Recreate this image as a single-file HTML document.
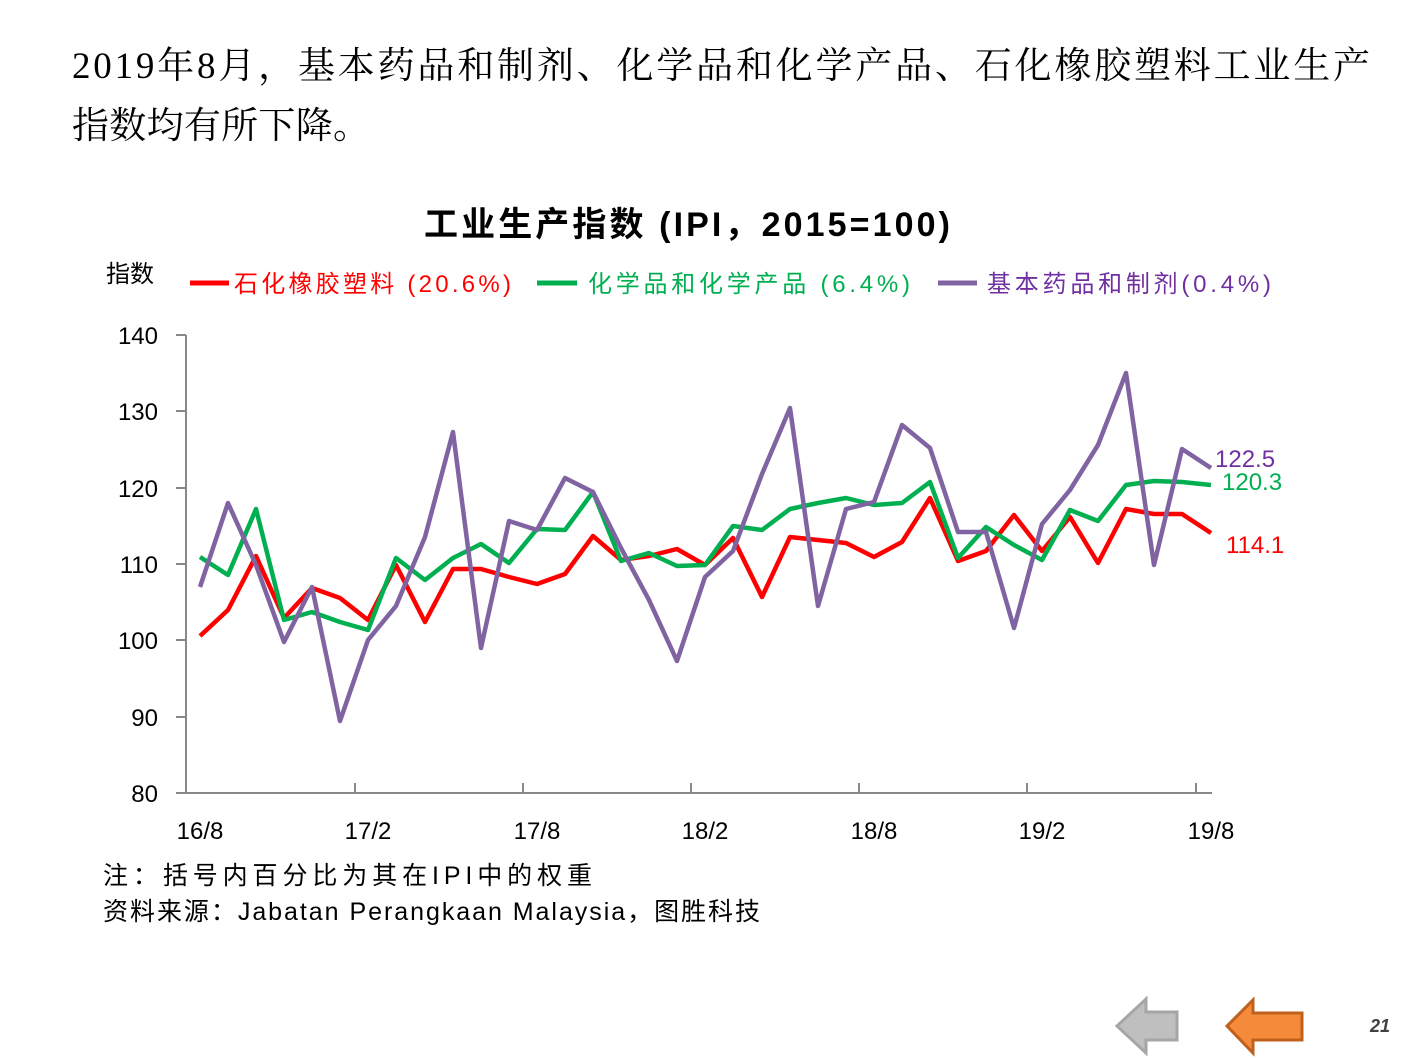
<!DOCTYPE html>
<html><head><meta charset="utf-8"><style>
html,body{margin:0;padding:0;background:#fff;}
body{width:1411px;height:1058px;overflow:hidden;position:relative;}
</style></head><body>
<svg width="1411" height="1058" viewBox="0 0 1411 1058" xmlns="http://www.w3.org/2000/svg" style="position:absolute;left:0;top:0">
<g font-family="'Liberation Serif','Noto Serif CJK SC',serif" font-size="37" fill="#000">
<text x="72" y="78" textLength="1298" lengthAdjust="spacing">2019年8月，基本药品和制剂、化学品和化学产品、石化橡胶塑料工业生产</text>
<text x="72" y="138" textLength="298" lengthAdjust="spacing">指数均有所下降。</text>
</g>
<text x="424" y="236" textLength="526" lengthAdjust="spacing" font-family="'Liberation Sans','Noto Sans CJK SC',sans-serif" font-size="34" font-weight="bold">工业生产指数 (IPI，2015=100)</text>
<g font-family="'Liberation Sans','Noto Sans CJK SC',sans-serif" font-size="24">
<text x="106" y="282">指数</text>
<line x1="190" y1="283" x2="229" y2="283" stroke="#ff0000" stroke-width="5"/>
<text x="234" y="292" fill="#ff0000" textLength="277" lengthAdjust="spacing">石化橡胶塑料 (20.6%)</text>
<line x1="537" y1="283" x2="577" y2="283" stroke="#00b050" stroke-width="5"/>
<text x="588" y="292" fill="#00b050" textLength="322" lengthAdjust="spacing">化学品和化学产品 (6.4%)</text>
<line x1="938" y1="283" x2="977" y2="283" stroke="#8064a2" stroke-width="5"/>
<text x="987" y="292" fill="#7030a0" textLength="284" lengthAdjust="spacing">基本药品和制剂(0.4%)</text>
</g>
<g stroke="#888" stroke-width="2">
<line x1="186" y1="335" x2="186" y2="793"/>
<line x1="186" y1="793" x2="1212" y2="793"/>
<line x1="176" y1="335" x2="186" y2="335"/><line x1="176" y1="411" x2="186" y2="411"/><line x1="176" y1="488" x2="186" y2="488"/><line x1="176" y1="564" x2="186" y2="564"/><line x1="176" y1="640" x2="186" y2="640"/><line x1="176" y1="717" x2="186" y2="717"/><line x1="176" y1="793" x2="186" y2="793"/>
<line x1="355" y1="783" x2="355" y2="793"/><line x1="523" y1="783" x2="523" y2="793"/><line x1="691" y1="783" x2="691" y2="793"/><line x1="859" y1="783" x2="859" y2="793"/><line x1="1027" y1="783" x2="1027" y2="793"/><line x1="1196" y1="783" x2="1196" y2="793"/>
</g>
<g font-family="'Liberation Sans',sans-serif" font-size="24" text-anchor="end">
<text x="158" y="344">140</text><text x="158" y="420">130</text><text x="158" y="497">120</text><text x="158" y="573">110</text><text x="158" y="649">100</text><text x="158" y="726">90</text><text x="158" y="802">80</text>
</g>
<g font-family="'Liberation Sans',sans-serif" font-size="24" text-anchor="middle">
<text x="200" y="839">16/8</text><text x="368" y="839">17/2</text><text x="537" y="839">17/8</text><text x="705" y="839">18/2</text><text x="874" y="839">18/8</text><text x="1042" y="839">19/2</text><text x="1211" y="839">19/8</text>
</g>
<g fill="none" stroke-width="4.5" stroke-linejoin="round">
<polyline stroke="#ff0000" points="200,636 228,610 256,556 284,618 312,588 340,598 368,620 396,565 425,622 453,569 481,569 509,577 537,584 565,574 593,536 621,560 649,556 677,549 705,565 733,538 762,597 790,537 818,540 846,543 874,557 902,542 930,498 958,561 986,551 1014,515 1042,551 1070,517 1098,563 1126,509 1154,514 1182,514 1211,533"/>
<polyline stroke="#00b050" points="200,557 228,575 256,509 284,620 312,612 340,622 368,630 396,558 425,580 453,558 481,544 509,563 537,529 565,530 593,492 621,561 649,553 677,566 705,565 733,526 762,530 790,509 818,503 846,498 874,505 902,503 930,482 958,558 986,527 1014,545 1042,560 1070,510 1098,521 1126,485 1154,481 1182,482 1211,485"/>
<polyline stroke="#8064a2" points="200,587 228,503 256,565 284,642 312,587 340,721 368,640 396,606 425,537 453,432 481,648 509,521 537,530 565,478 593,492 621,548 649,600 677,661 705,577 733,551 762,474 790,408 818,606 846,509 874,502 902,425 930,448 958,532 986,532 1014,628 1042,524 1070,490 1098,445 1126,373 1154,565 1182,449 1211,468"/>
</g>
<g font-family="'Liberation Sans',sans-serif" font-size="24">
<text x="1215" y="467" fill="#7030a0">122.5</text>
<text x="1222" y="490" fill="#00b050">120.3</text>
<text x="1226" y="553" fill="#ff0000">114.1</text>
</g>
<g font-family="'Liberation Sans','Noto Sans CJK SC',sans-serif" font-size="25">
<text x="103" y="884" textLength="489" lengthAdjust="spacing">注：括号内百分比为其在IPI中的权重</text>
<text x="103" y="920" textLength="657" lengthAdjust="spacing">资料来源：Jabatan Perangkaan Malaysia，图胜科技</text>
</g>
<path d="M1117,1026 L1146,999 L1146,1012 L1177,1012 L1177,1040 L1146,1040 L1146,1053 Z" fill="#bfbfbf" stroke="#a6a6a6" stroke-width="3"/>
<path d="M1227,1026 L1253,1000 L1253,1013 L1302,1013 L1302,1040 L1253,1040 L1253,1053 Z" fill="#f58a3a" stroke="#c0601e" stroke-width="3"/>
<text x="1370" y="1032" font-family="'Liberation Sans',sans-serif" font-size="18" font-weight="bold" font-style="italic" fill="#404040">21</text>
</svg>
</body></html>
